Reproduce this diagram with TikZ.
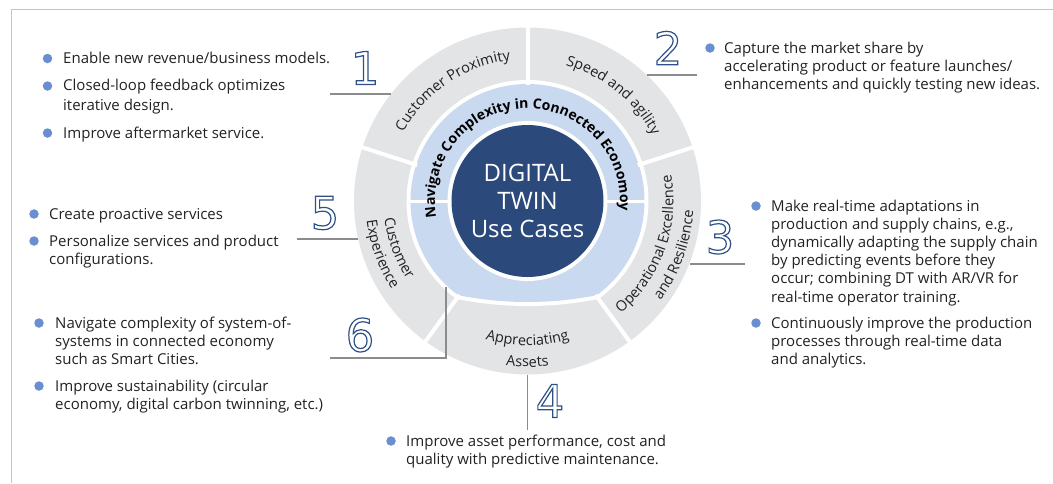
\documentclass[tikz,border=0pt]{standalone}
\usepackage{fontspec}
\setmainfont{Open Sans}
\newfontfamily\digitfont{DejaVu Sans}
\usetikzlibrary{decorations.text}
\definecolor{ringgray}{HTML}{E3E4E6}
\definecolor{lightblue}{HTML}{C9D9EF}
\definecolor{darkblue}{HTML}{2B4A7B}
\definecolor{bulletblue}{HTML}{6A8FD0}
\definecolor{numblue}{HTML}{2F5087}
\definecolor{txt}{HTML}{222222}
\definecolor{leadergray}{HTML}{8C8C8C}
\definecolor{framegray}{HTML}{C4C4C4}
\newcommand{\seglabelfont}{\color{txt}\fontsize{14.5}{16}\selectfont}
\newcommand{\navfont}{\color{black}\bfseries\fontsize{14}{16}\selectfont}
\newcommand{\outlinedigit}[1]{\special{pdf:literal direct 2 Tr 1.2 w 0.184 0.314 0.529 RG}#1\special{pdf:literal direct 0 Tr}}
\newcommand{\lines}[1]{\begin{tabular}[t]{@{}l@{}}#1\end{tabular}}
\begin{document}
\begin{tikzpicture}[x=1pt,y=1pt,
  bullettext/.style={anchor=base west, inner sep=0pt, text=txt, font=\fontsize{15}{18.2}\selectfont},
  dot/.style={circle, fill=bulletblue, inner sep=0pt, minimum size=9.5pt},
  leader/.style={draw=leadergray, line width=1.2pt},
  num/.style={inner sep=0pt, text=white, font=\digitfont\fontsize{45}{45}\selectfont},
  sepline/.style={draw=white, line width=4pt},
  arclabel/.style={decorate, decoration={text along path, text align=center}}]
\useasboundingbox (0,0) rectangle (1053,-483);
% frame
\draw[framegray, line width=1.5pt] (11.5,-483) -- (11.5,-9.5) -- (1053,-9.5);

% wheel
\begin{scope}[shift={(527.5,-201)}]
  \fill[ringgray] (0,0) circle (173.5);
  \begin{scope}
    \clip (0,251.5) circle (356.5);
    \fill[white] (0,0) circle (121);
  \end{scope}
  \begin{scope}
    \clip (0,251.5) circle (352.5);
    \fill[lightblue] (0,0) circle (117);
  \end{scope}
  \foreach \a in {18,90,162,234,306} \draw[sepline] (\a:116) -- (\a:176);
  \draw[white, line width=3pt] (-119,0) -- (119,0);
  \fill[white] (0,0) circle (80);
  \fill[darkblue] (0,0) circle (76);
  \node[align=center, text=white, font=\fontsize{24}{28}\selectfont, inner sep=0pt] (core) at (0,0) {DIGITAL\\TWIN\\Use Cases};

  % segment labels, tops outward (clockwise)
  \path[arclabel, decoration={text={|\seglabelfont|Customer Proximity}}]
    (160:142) arc[start angle=160, end angle=88, radius=142];
  \path[arclabel, decoration={text={|\seglabelfont|Speed and agility}}]
    (88:141) arc[start angle=88, end angle=14, radius=141];
  \path[arclabel, decoration={text={|\navfont|Navigate Complexity in Connected Economoy}}]
    (262:92.5) arc[start angle=262, end angle=-78, radius=92.5];
  % segment labels, tops inward (counter-clockwise)
  \path[arclabel, decoration={text={|\seglabelfont|Operational Excellence}}]
    (-110:146) arc[start angle=-110, end angle=70, radius=146];
  \path[arclabel, decoration={text={|\seglabelfont|and Resilience}}]
    (-110:166) arc[start angle=-110, end angle=70, radius=166];
  \path[arclabel, decoration={text={|\seglabelfont|Customer}}]
    (110:144) arc[start angle=110, end angle=290, radius=144];
  \path[arclabel, decoration={text={|\seglabelfont|Experience}}]
    (110:162) arc[start angle=110, end angle=290, radius=162];
  \path[arclabel, decoration={text={|\seglabelfont|Appreciating}}]
    (180:144.5) arc[start angle=180, end angle=360, radius=144.5];
  \path[arclabel, decoration={text={|\seglabelfont|Assets}}]
    (180:166) arc[start angle=180, end angle=360, radius=166];
\end{scope}

% numbers
\node[num] (n1) at (365,-68) {\outlinedigit{1}};
\node[num] (n2) at (668,-48) {\outlinedigit{2}};
\node[num] (n3) at (720,-237) {\outlinedigit{3}};
\node[num] (n4) at (550,-401) {\outlinedigit{4}};
\node[num] (n5) at (325,-213) {\outlinedigit{5}};
\node[num] (n6) at (360,-335) {\outlinedigit{6}};

% leader lines
\coordinate (l1a) at (330,-94);   \coordinate (l1b) at (391,-94);
\coordinate (l2a) at (647,-75);   \coordinate (l2b) at (697,-75);
\coordinate (l3a) at (690,-264);  \coordinate (l3b) at (745,-264);
\coordinate (l4a) at (527.5,-375);\coordinate (l4b) at (527.5,-430);
\coordinate (l5a) at (297,-239);  \coordinate (l5b) at (358,-239);
\coordinate (l6a) at (446,-287);  \coordinate (l6b) at (446,-358); \coordinate (l6c) at (330,-358);
\draw[leader] (l1a) -- (l1b);
\draw[leader] (l2a) -- (l2b);
\draw[leader] (l3a) -- (l3b);
\draw[leader] (l4a) -- (l4b);
\draw[leader] (l5a) -- (l5b);
\draw[leader] (l6a) -- (l6b) -- (l6c);

% block 1
\node[dot] (b1a) at (47.5,-58.5) {};
\node[bullettext] (t1a) at (63,-63) {Enable new revenue/business models.};
\node[dot] (b1b) at (47.5,-86) {};
\node[bullettext, font=\fontsize{15}{19.5}\selectfont] (t1b) at (63,-90.5) {\lines{Closed-loop feedback optimizes\\iterative design.}};
\node[dot] (b1c) at (47.5,-133) {};
\node[bullettext] (t1c) at (63,-138) {Improve aftermarket service.};

% block 2
\node[dot] (b2a) at (710,-48) {};
\node[bullettext] (t2a) at (724,-53) {\lines{Capture the market share by\\accelerating product or feature launches/\\enhancements and quickly testing new ideas.}};

% block 3
\node[dot] (b3a) at (756,-206) {};
\node[bullettext] (t3a) at (771,-211) {\lines{Make real-time adaptations in\\production and supply chains, e.g.,\\dynamically adapting the supply chain\\by predicting events before they\\occur; combining DT with AR/VR for\\real-time operator training.}};
\node[dot] (b3b) at (756,-323) {};
\node[bullettext] (t3b) at (771,-328) {\lines{Continuously improve the production\\processes through real-time data\\and analytics.}};

% block 4
\node[dot] (b4a) at (391,-441) {};
\node[bullettext] (t4a) at (406,-446) {\lines{Improve asset performance, cost and\\quality with predictive maintenance.}};

% block 5
\node[dot] (b5a) at (34,-214) {};
\node[bullettext] (t5a) at (49,-219) {Create proactive services};
\node[dot] (b5b) at (34,-241) {};
\node[bullettext] (t5b) at (49,-246) {\lines{Personalize services and product\\configurations.}};

% block 6
\node[dot] (b6a) at (39,-323) {};
\node[bullettext] (t6a) at (55,-328) {\lines{Navigate complexity of system-of-\\systems in connected economy\\such as Smart Cities.}};
\node[dot] (b6b) at (39,-386) {};
\node[bullettext] (t6b) at (55,-391) {\lines{Improve sustainability (circular\\economy, digital carbon twinning, etc.)}};
\end{tikzpicture}
\end{document}
